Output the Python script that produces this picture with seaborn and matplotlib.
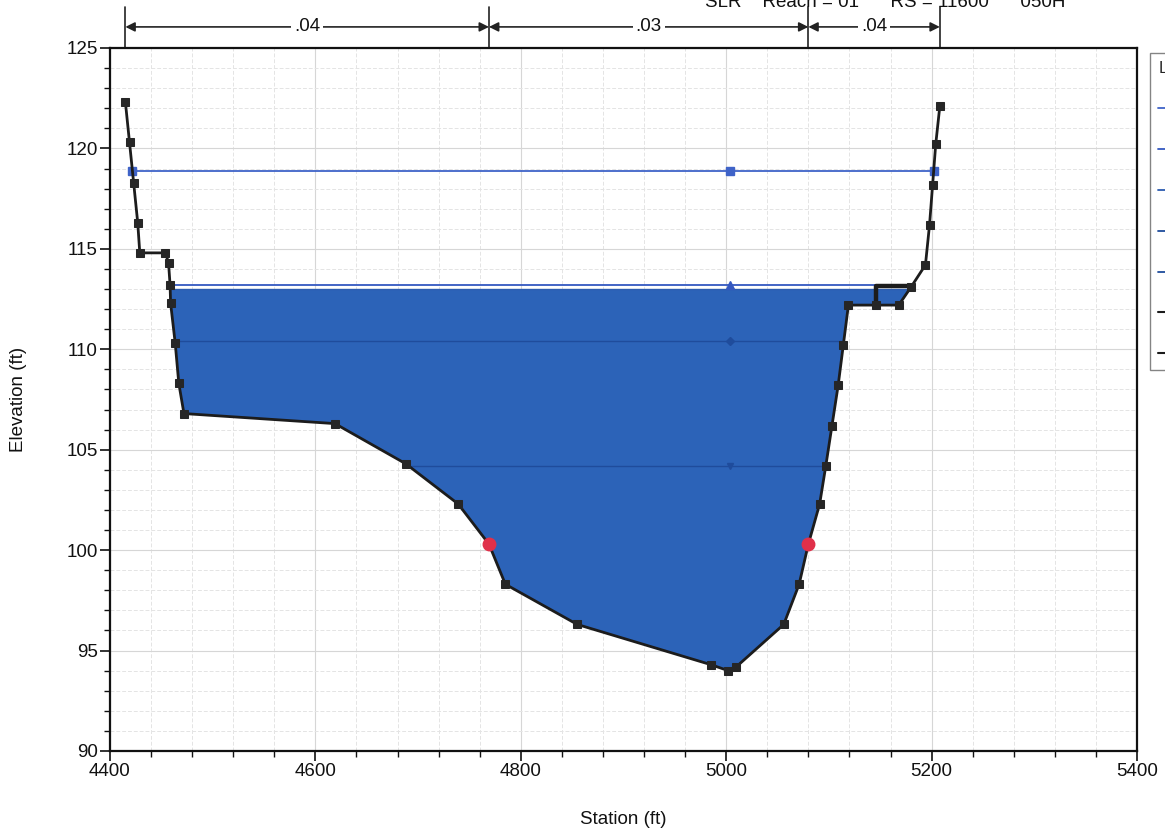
import numpy as np
import matplotlib
matplotlib.use("Agg")
import matplotlib.pyplot as plt
from matplotlib.lines import Line2D
import seaborn as sns

# ---------------- data ----------------
ground_sta = [4415, 4419, 4423, 4427, 4429, 4454, 4457, 4458.5, 4459, 4463.5,
              4467, 4472, 4619, 4688, 4739, 4769, 4785, 4855, 4985, 5002,
              5010, 5056, 5071, 5080, 5091, 5097, 5103, 5109, 5114, 5119,
              5146, 5168, 5180, 5194, 5198, 5201, 5204, 5208]
ground_elev = [122.3, 120.3, 118.3, 116.3, 114.8, 114.8, 114.3, 113.2, 112.3, 110.3,
               108.3, 106.8, 106.3, 104.3, 102.3, 100.3, 98.3, 96.3, 94.3, 94.0,
               94.2, 96.3, 98.3, 100.3, 102.3, 104.2, 106.2, 108.2, 110.2, 112.2,
               112.2, 112.2, 113.1, 114.2, 116.2, 118.2, 120.2, 122.1]
bank_sta = [4769, 5080]
bank_elev = [100.3, 100.3]
ws_elev = [118.9, 113.2, 113.0, 110.4, 104.2]
ws_fill = 113.0
ws_marker_sta = 5004
ineff_sta = [5146, 5146, 5180]
ineff_elev = [112.2, 113.15, 113.15]
n_breaks = [4415, 4769, 5080, 5208]
n_values = [".04", ".03", ".04"]
legend_labels = ["WS PF 5", "WS PF 4", "WS PF 3", "WS PF 2", "WS PF 1", "Ineff", "Ground"]
title_text = "SLR    Reach = 01      RS = 11600      050H"

# ---------------- style ----------------
sns.set_theme(style="white")
plt.rcParams["font.family"] = ["Liberation Sans", "DejaVu Sans"]

W, H = 1165, 831
fig = plt.figure(figsize=(W / 100, H / 100), dpi=100)
ax = fig.add_axes([110 / W, 1 - 751 / H, (1137 - 110) / W, (751 - 48) / H])

gs = np.array(ground_sta, float)
ge = np.array(ground_elev, float)
imin = int(np.argmin(ge))


def crossings(h):
    xl = None
    for i in range(imin, 0, -1):
        if ge[i - 1] >= h >= ge[i]:
            t = (h - ge[i]) / (ge[i - 1] - ge[i]) if ge[i - 1] != ge[i] else 0
            xl = gs[i] + t * (gs[i - 1] - gs[i])
            break
    xr = None
    for i in range(imin, len(ge) - 1):
        if ge[i] <= h <= ge[i + 1]:
            t = (h - ge[i]) / (ge[i + 1] - ge[i]) if ge[i + 1] != ge[i] else 0
            xr = gs[i] + t * (gs[i + 1] - gs[i])
            break
    return xl, xr


# water fill
ax.fill_between(gs, ge, ws_fill, where=ge <= ws_fill, interpolate=True,
                color="#2c63b8", linewidth=0, zorder=2)

# water surface lines
ws_colors = ["#3f63c8", "#3458c0", "#2c5cb0", "#1f4c9c", "#1f4c9c"]
ws_markers = ["s", "^", None, "D", "v"]
ws_lw = [1.3, 1.3, 1.0, 1.0, 1.0]
handles = []
for h, c, m, lw in zip(ws_elev, ws_colors, ws_markers, ws_lw):
    xl, xr = crossings(h)
    sns.lineplot(x=[xl, xr], y=[h, h], ax=ax, color=c, lw=lw, sort=False, zorder=3)
    if m is not None:
        ax.plot([ws_marker_sta], [h], marker=m, color=c, ms=6 if m in "s^" else 4,
                ls="none", zorder=4)
    if m == "s":
        ax.plot([xl, xr], [h, h], marker="s", color=c, ms=6, ls="none", zorder=4)
    handles.append(Line2D([], [], color=c, lw=1.3))

# ineffective / obstruction box
ax.plot(ineff_sta, ineff_elev, color="#1c1c1c", lw=3.2, solid_capstyle="butt", zorder=5)
handles.append(Line2D([], [], color="#1c1c1c", lw=1.5))

# ground
sns.lineplot(x=ground_sta, y=ground_elev, ax=ax, sort=False, color="#1c1c1c", lw=2.0,
             marker="s", markersize=6, markerfacecolor="#262626",
             markeredgecolor="#262626", zorder=6)
handles.append(Line2D([], [], color="#1c1c1c", lw=1.5, marker="s", ms=5))

# bank stations
ax.plot(bank_sta, bank_elev, ls="none", marker="o", ms=9, color="#e0304a",
        markeredgecolor="#e0304a", zorder=7)

# ---------------- axes ----------------
ax.set_xlim(4400, 5400)
ax.set_ylim(90, 125)
ax.set_xticks(np.arange(4400, 5401, 200))
ax.set_yticks(np.arange(90, 126, 5))
ax.set_xticks(np.arange(4400, 5401, 40), minor=True)
ax.set_yticks(np.arange(90, 126, 1), minor=True)
ax.grid(which="major", color="#d6d6d6", lw=0.8)
ax.grid(which="minor", color="#e4e4e4", lw=0.7, ls=(0, (4, 2)))
ax.set_axisbelow(True)
for s in ax.spines.values():
    s.set_color("#111111")
    s.set_linewidth(1.6)
ax.tick_params(which="major", direction="out", length=7, width=1.2, color="#111",
               labelsize=13.5, labelcolor="#111", left=True, bottom=True, pad=2)
ax.tick_params(which="minor", direction="out", length=4, width=1.0, color="#111",
               left=True, bottom=True)
ax.set_xlabel("Station (ft)", fontsize=13.5, color="#111", labelpad=22)
ax.set_ylabel("Elevation (ft)", fontsize=13.5, color="#111")
ax.yaxis.set_label_coords(-0.081, 0.5)

# n-value annotations above the plot
tr = ax.get_xaxis_transform()
for b in n_breaks:
    ax.plot([b, b], [1.0, 1.058], transform=tr, color="#222", lw=1.2, clip_on=False)
for a, b, nv in zip(n_breaks[:-1], n_breaks[1:], n_values):
    ax.annotate("", xy=(a, 1.030), xytext=(b, 1.030), xycoords=tr, textcoords=tr,
                arrowprops=dict(arrowstyle="<|-|>", color="#222", lw=1.2,
                                shrinkA=0, shrinkB=0, mutation_scale=14))
    ax.text((a + b) / 2, 1.030, nv, transform=tr, ha="center", va="center",
            fontsize=13.5, color="#111",
            bbox=dict(facecolor="white", edgecolor="none", pad=2))

# partially visible title at the very top
fig.text(885 / W, 1 - 7 / H, title_text, ha="center", va="baseline",
         fontsize=13.5, color="#111")

# legend, partly cut off at the right edge
leg = fig.legend(handles, legend_labels, loc="upper left",
                 bbox_to_anchor=(1150 / W, 1 - 53 / H), bbox_transform=fig.transFigure,
                 title="Legend", frameon=True, fancybox=False, edgecolor="#666",
                 borderaxespad=0, borderpad=0.5, handlelength=2.0, labelspacing=1.55,
                 fontsize=12, title_fontsize=12, alignment="left")
leg.get_frame().set_linewidth(1.0)

fig.savefig("out.png", dpi=100)
